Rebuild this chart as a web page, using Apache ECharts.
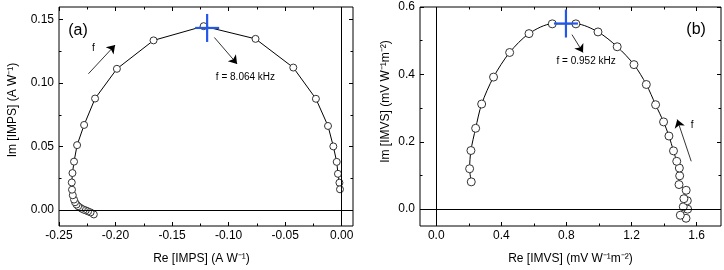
<!DOCTYPE html>
<html><head><meta charset="utf-8">
<script src="https://cdn.jsdelivr.net/npm/echarts@6/dist/echarts.min.js"></script>
<style>html,body{margin:0;padding:0;background:#fff}#c{width:724px;height:270px}</style>
</head><body><div id="c"></div>
<script>
// ---- Panel (a): IMPS ----
const impsRe = [-0.2192,-0.2221,-0.2243,-0.2263,-0.2281,-0.2298,-0.2316,-0.2331,-0.2345,-0.2358,-0.2367,-0.2378,-0.2385,-0.2387,-0.2381,-0.2367,-0.2340,-0.2278,-0.2181,-0.1988,-0.1664,-0.1221,-0.0762,-0.0428,-0.0228,-0.0121,-0.0074,-0.0044,-0.0033,-0.0020,-0.0015];
const impsIm = [-0.0034,-0.0018,-0.0010,-0.0002,0.0003,0.0011,0.0021,0.0031,0.0044,0.0062,0.0083,0.0117,0.0161,0.0218,0.0292,0.0382,0.0512,0.0671,0.0879,0.1113,0.1337,0.1449,0.1349,0.1123,0.0877,0.0663,0.0502,0.0380,0.0286,0.0216,0.0164];
// ---- Panel (b): IMVS ----
const imvsRe = [1.535,1.500,1.545,1.518,1.543,1.522,1.536,1.492,1.496,1.494,1.478,1.458,1.430,1.397,1.348,1.291,1.215,1.112,0.994,0.858,0.713,0.570,0.451,0.352,0.279,0.242,0.213,0.205,0.215];
const imvsIm = [-0.027,-0.018,0.000,0.007,0.025,0.031,0.056,0.073,0.099,0.122,0.142,0.173,0.217,0.259,0.310,0.370,0.429,0.482,0.526,0.550,0.550,0.521,0.465,0.392,0.312,0.240,0.174,0.120,0.081];

// ---- ticks ----
const aXTicks = [-0.25,-0.20,-0.15,-0.10,-0.05,0.00];
const aXLabels = ['-0.25','-0.20','-0.15','-0.10','-0.05','0.00'];
const aXMinor = [-0.225,-0.175,-0.125,-0.075,-0.025];
const aYTicks = [0.00,0.05,0.10,0.15];
const aYLabels = ['0.00','0.05','0.10','0.15'];
const aYMinor = [0.025,0.075,0.125];
const bXTicks = [0.0,0.4,0.8,1.2,1.6];
const bXLabels = ['0.0','0.4','0.8','1.2','1.6'];
const bXMinor = [0.2,0.6,1.0,1.4];
const bYTicks = [0.0,0.2,0.4,0.6];
const bYLabels = ['0.0','0.2','0.4','0.6'];
const bYMinor = [0.1,0.3,0.5];

// ---- annotations ----
const aCross = [-0.119, 0.1435];
const bCross = [0.797, 0.551];
const aTexts = ['(a)','f','f = 8.064 kHz'];
const aTextPos = [[-0.2332,0.1417],[-0.2195,0.1275],[-0.0851,0.1048]];
const bTexts = ['(b)','f','f = 0.952 kHz'];
const bTextPos = [[1.597,0.533],[1.573,0.248],[0.921,0.438]];
const aArrows = [[[-0.224,0.1074],[-0.2004,0.130]],[[-0.1126,0.136],[-0.0925,0.1152]]];
const bArrows = [[[0.834,0.518],[0.902,0.465]],[[1.567,0.142],[1.481,0.266]]];

const FONT = 'Liberation Sans, Arial, Helvetica, sans-serif';
const BLUE = '#2457e8';

function makeAxes(dim, grid, min, max, ticks, labels, minor, name, nameGap, namePad) {
  const pos = dim === 'x' ? ['bottom','top'] : ['left','right'];
  const base = {type:'value', gridIndex:grid, min, max, axisLine:{show:false, onZero:false}, splitLine:{show:false}};
  const fmt = v => { for (let i=0;i<ticks.length;i++) if (Math.abs(ticks[i]-v)<1e-9) return labels[i]; return ''; };
  return [
    Object.assign({}, base, {position:pos[0], name, nameLocation:'middle', nameGap,
      nameTextStyle:{fontFamily:FONT, fontSize:12, color:'#000', padding:namePad},
      axisTick:{show:true, inside:true, length:4, customValues:ticks, lineStyle:{color:'#000', width:1}},
      axisLabel:{show:true, customValues:ticks, formatter:fmt, fontFamily:FONT, fontSize:12, color:'#000', margin: dim==='x'?4:5}}),
    Object.assign({}, base, {position:pos[0],
      axisTick:{show:true, inside:true, length:2.5, customValues:minor, lineStyle:{color:'#000', width:1}},
      axisLabel:{show:false}}),
    Object.assign({}, base, {position:pos[1],
      axisTick:{show:true, inside:true, length:4, customValues:ticks, lineStyle:{color:'#000', width:1}},
      axisLabel:{show:false}}),
    Object.assign({}, base, {position:pos[1],
      axisTick:{show:true, inside:true, length:2.5, customValues:minor, lineStyle:{color:'#000', width:1}},
      axisLabel:{show:false}})
  ];
}

const xAxes = [].concat(
  makeAxes('x',0,-0.25,0.01,aXTicks,aXLabels,aXMinor,'Re [IMPS] (A W\u207B\u00B9)',27,[0,9,0,0]),
  makeAxes('x',1,-0.1,1.75,bXTicks,bXLabels,bXMinor,'Re [IMVS] (mV W\u207B\u00B9m\u207B\u00B2)',27,0)
);
const yAxes = [].concat(
  makeAxes('y',0,-0.0125,0.16,aYTicks,aYLabels,aYMinor,'Im [IMPS] (A W\u207B\u00B9)',40,[0,0,0,13]),
  makeAxes('y',1,-0.05,0.6,bYTicks,bYLabels,bYMinor,'Im [IMVS] (mV W\u207B\u00B9m\u207B\u00B2)',28,[0,0,0,30])
);

function dataSeries(re, im, xi, yi, smooth, size) {
  return {
    type:'line', xAxisIndex:xi, yAxisIndex:yi, smooth,
    data: re.map((x,i)=>[x, im[i]]),
    symbol:'circle', symbolSize:size, showSymbol:true, showAllSymbol:true,
    itemStyle:{color:'#fff', borderColor:'#333', borderWidth:1},
    lineStyle:{color:'#000', width:1},
    emphasis:{disabled:true}, z:3, animation:false,
    markLine:{silent:true, symbol:['none','none'], animation:false,
      label:{show:false}, lineStyle:{color:'#000', width:1, type:'solid'},
      data:[{xAxis:0},{yAxis:0}]}
  };
}
function crossSeries(pt, xi, yi) {
  return {
    type:'custom', xAxisIndex:xi, yAxisIndex:yi, data:[pt], z:10, silent:true, animation:false,
    renderItem:(params, api) => {
      const p = api.coord([api.value(0), api.value(1)]);
      return {type:'group', children:[
        {type:'line', shape:{x1:p[0]-12, y1:p[1], x2:p[0]+12, y2:p[1]}, style:{stroke:BLUE, lineWidth:2.2}},
        {type:'line', shape:{x1:p[0], y1:p[1]-14, x2:p[0], y2:p[1]+14}, style:{stroke:BLUE, lineWidth:2.2}}
      ]};
    }
  };
}
function textSeries(texts, pos, xi, yi) {
  return {
    type:'custom', xAxisIndex:xi, yAxisIndex:yi, data:pos, z:11, silent:true, animation:false,
    renderItem:(params, api) => {
      const p = api.coord([api.value(0), api.value(1)]);
      const t = texts[params.dataIndex];
      const big = t.charAt(0) === '(';
      return {type:'text', x:p[0], y:p[1], style:{text:t, fill:'#000',
        font: (big?'16px ':'10px ') + FONT, align:'center', verticalAlign:'middle'}};
    }
  };
}
function arrowSeries(arrows, xi, yi) {
  return {
    type:'lines', coordinateSystem:'cartesian2d', xAxisIndex:xi, yAxisIndex:yi,
    data: arrows.map(a => ({coords:a})), symbol:['none','arrow'], symbolSize:8,
    lineStyle:{color:'#000', width:0.8, opacity:1}, silent:true, z:11, animation:false
  };
}

const chart = echarts.init(document.getElementById('c'), null, {renderer:'canvas'});
chart.setOption({
  backgroundColor:'#fff',
  animation:false,
  grid:[
    {left:59, top:7, width:294, height:221, show:true, borderColor:'#000', borderWidth:1, backgroundColor:'transparent'},
    {left:420, top:7, width:301, height:221, show:true, borderColor:'#000', borderWidth:1, backgroundColor:'transparent'}
  ],
  xAxis: xAxes,
  yAxis: yAxes,
  series:[
    dataSeries(impsRe, impsIm, 0, 0, false, 7),
    dataSeries(imvsRe, imvsIm, 4, 4, 0.3, 8),
    crossSeries(aCross, 0, 0),
    crossSeries(bCross, 4, 4),
    textSeries(aTexts, aTextPos, 0, 0),
    textSeries(bTexts, bTextPos, 4, 4),
    arrowSeries(aArrows, 0, 0),
    arrowSeries(bArrows, 4, 4)
  ]
});
</script></body></html>
